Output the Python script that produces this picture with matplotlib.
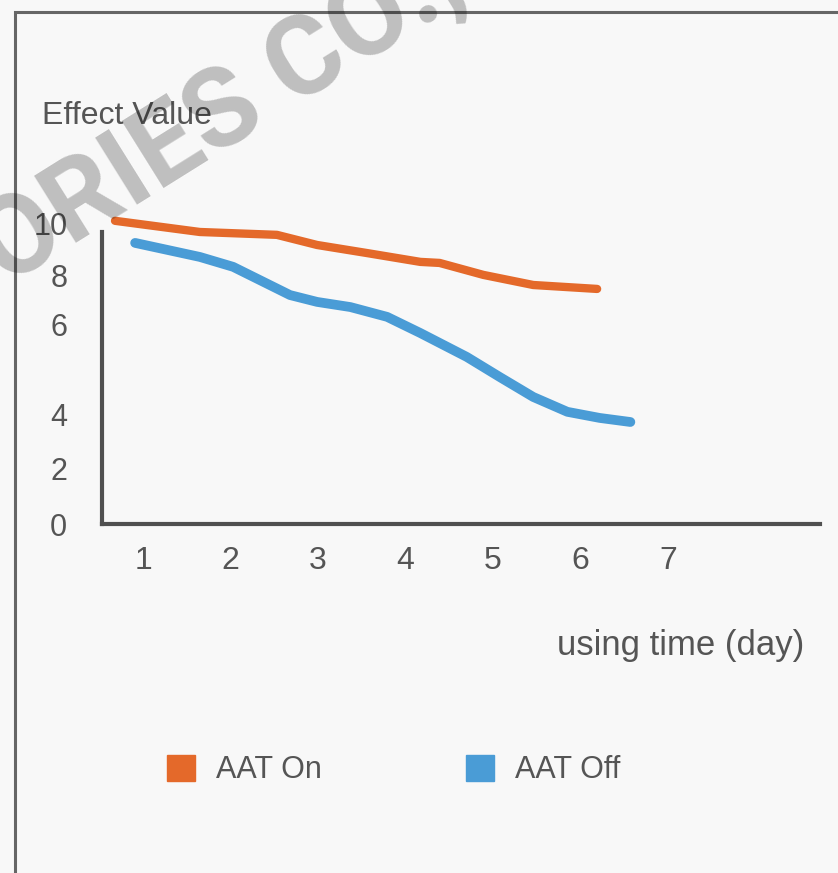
import matplotlib
matplotlib.use('Agg')
import matplotlib.pyplot as plt
import matplotlib.patches as mpatches
import numpy as np

# data
days = [1, 2, 3, 4, 5, 6, 7]
y_ticks = [0, 2, 4, 6, 8, 10]

aat_on_x = [0.68, 1.65, 2.53, 2.99, 3.56, 4.17, 4.39, 4.89, 5.46, 6.19]
aat_on_y = [10.12, 9.69, 9.58, 9.19, 8.88, 8.54, 8.50, 8.04, 7.63, 7.47]

aat_off_x = [0.91, 1.65, 2.03, 2.68, 2.99, 3.37, 3.79, 4.17, 4.70, 5.08, 5.46, 5.85, 6.22, 6.57]
aat_off_y = [9.27, 8.73, 8.35, 7.22, 6.94, 6.73, 6.33, 5.82, 5.29, 4.84, 4.40, 4.07, 3.89, 3.74]

series_names = ['AAT On', 'AAT Off']
colors = ['#e4692a', '#4a9cd6']

# the y axis is not evenly spaced in the original
tick_pos = np.array([0, 55, 109, 199, 248, 300, 352], dtype=float)
tick_val = np.array([0, 2, 4, 6, 8, 10, 12], dtype=float)

def fwd(v):
    return np.interp(v, tick_val, tick_pos)

def inv(p):
    return np.interp(p, tick_pos, tick_val)

plt.rcParams['font.family'] = ['Liberation Sans', 'DejaVu Sans']
txt = '#555555'

W, H = 838, 873
fig = plt.figure(figsize=(W / 100, H / 100), dpi=100)
fig.patch.set_facecolor('#f8f8f8')

def px(x, y):
    return x / W, 1 - y / H

l, b = px(102, 524)
r, t = px(820, 200)
ax = fig.add_axes([l, b, r - l, t - b])
ax.set_facecolor('none')
ax.set_yscale('function', functions=(fwd, inv))

ax.plot(aat_on_x, aat_on_y, color=colors[0], lw=6, solid_capstyle='round', solid_joinstyle='round')
ax.plot(aat_off_x, aat_off_y, color=colors[1], lw=7, solid_capstyle='round', solid_joinstyle='round')

ax.set_xlim(1 + (102 - 143) / 87.5, 1 + (820 - 143) / 87.5)
ax.set_ylim(0, 10.92)

for s in ['top', 'right']:
    ax.spines[s].set_visible(False)
for s in ['left', 'bottom']:
    ax.spines[s].set_color('#505050')
    ax.spines[s].set_linewidth(3)
ax.spines['left'].set_bounds(0, 9.69)

ax.set_xticks(days)
ax.set_xticklabels([str(d) for d in days])
ax.set_yticks(y_ticks)
ax.set_yticklabels([str(v) for v in y_ticks])
ax.tick_params(axis='x', length=0, pad=16, labelsize=23, labelcolor=txt)
ax.tick_params(axis='y', length=0, pad=25, labelsize=22, labelcolor=txt)
ax.yaxis.set_minor_locator(matplotlib.ticker.NullLocator())

fig.text(*px(42, 116), 'Effect Value', fontsize=23, color=txt, ha='left', va='center')
fig.text(*px(804, 645), 'using time (day)', fontsize=25, color=txt, ha='right', va='center')

handles = [mpatches.Patch(color=c, label=n) for c, n in zip(colors, series_names)]
fig.legend(handles=handles, loc='center left', bbox_to_anchor=px(167, 770), ncol=2,
           frameon=False, fontsize=22, handlelength=0.92, handleheight=0.92,
           handletextpad=0.69, columnspacing=4.7, borderpad=0, borderaxespad=0,
           labelcolor=txt)

# outer frame
frame = mpatches.Rectangle(px(15, 1000), 2, (1000 - 12) / H, transform=fig.transFigure,
                           fill=False, edgecolor='#666666', lw=2.2, zorder=0)
fig.patches.append(frame)

# watermark
fig.text(*px(5, 287), 'ORIES CO.,LTD', fontsize=80, rotation=32, rotation_mode='anchor',
         ha='left', va='baseline', color='black', alpha=0.23, zorder=10,
         family=['Roboto', 'DejaVu Sans'], weight='bold')

fig.savefig('out.png', dpi=100, facecolor=fig.get_facecolor())
